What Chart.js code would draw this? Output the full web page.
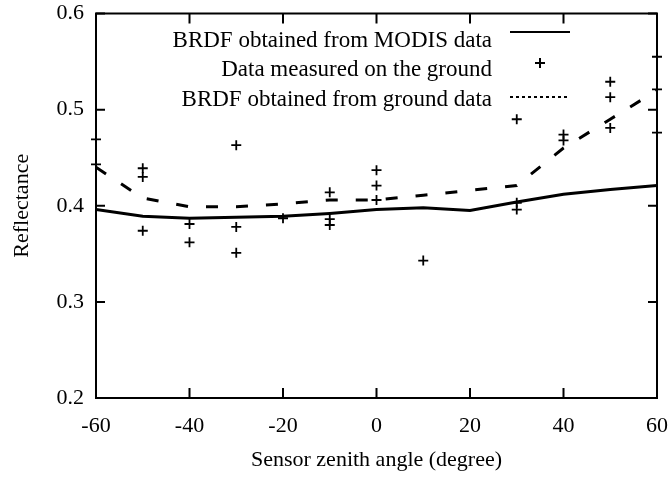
<!DOCTYPE html>
<html>
<head>
<meta charset="utf-8">
<script src="https://cdn.jsdelivr.net/npm/chart.js@4.4.0/dist/chart.umd.min.js"></script>
<style>
  html, body { margin: 0; padding: 0; background: #fff; }
  #wrap { width: 670px; height: 479px; }
</style>
</head>
<body>
<div id="wrap"><canvas id="myChart" width="670" height="479"></canvas></div>
<script>
    ///// data /////
    var angles = [-60, -50, -40, -30, -20, -10, 0, 10, 20, 30, 40, 50, 60];
    var modisBRDF = [0.396, 0.389, 0.387, 0.388, 0.389, 0.392, 0.396, 0.398, 0.395, 0.404, 0.412, 0.417, 0.421];
    var groundBRDF = [0.44, 0.408, 0.399, 0.399, 0.402, 0.406, 0.406, 0.411, 0.416, 0.421, 0.46, 0.49, 0.52];

    var measuredAngle = [-60, -60, -50, -50, -50, -40, -40, -30, -30, -30, -20, -10, -10, -10,
                         0, 0, 0, 10, 30, 30, 30, 40, 40, 50, 50, 50, 60, 60, 60];
    var measuredValue = [0.469, 0.443, 0.439, 0.430, 0.374, 0.381, 0.362, 0.463, 0.378, 0.351, 0.387, 0.414, 0.386, 0.380,
                         0.437, 0.421, 0.406, 0.343, 0.490, 0.403, 0.396, 0.474, 0.468, 0.529, 0.513, 0.481, 0.555, 0.521, 0.476];

    var xTicks = [-60, -40, -20, 0, 20, 40, 60];
    var yTicks = [0.2, 0.3, 0.4, 0.5, 0.6];
    var legendLabels = ["BRDF obtained from MODIS data", "Data measured on the ground", "BRDF obtained from ground data"];
    var xTitle = "Sensor zenith angle (degree)";
    var yTitle = "Reflectance";

    var fontFamily = "'Liberation Serif', 'Times New Roman', serif";

    function pairs(xs, ys) {
        var out = [];
        for (var i = 0; i < xs.length; i++) {
            out.push({x: xs[i], y: ys[i]});
        }
        return out;
    }

    ///// box + inward ticks + legend (gnuplot look) /////
    var frame = {
        id: "frame",
        afterDatasetsDraw: function (chart) {
            var ctx = chart.ctx;
            var a = chart.chartArea;
            var xs = chart.scales.x;
            var ys = chart.scales.y;
            ctx.save();
            ctx.strokeStyle = "#000";
            ctx.lineWidth = 2;
            ctx.strokeRect(a.left, a.top, a.right - a.left, a.bottom - a.top);

            ctx.beginPath();
            xTicks.forEach(function (v) {
                var px = xs.getPixelForValue(v);
                ctx.moveTo(px, a.bottom); ctx.lineTo(px, a.bottom - 10);
                ctx.moveTo(px, a.top); ctx.lineTo(px, a.top + 10);
            });
            yTicks.forEach(function (v) {
                var py = ys.getPixelForValue(v);
                ctx.moveTo(a.left, py); ctx.lineTo(a.left + 9, py);
                ctx.moveTo(a.right, py); ctx.lineTo(a.right - 9, py);
            });
            ctx.stroke();

            //////// legend, text right aligned, sample on the right
            ctx.font = "23px " + fontFamily;
            ctx.fillStyle = "#000";
            ctx.textAlign = "right";
            ctx.textBaseline = "alphabetic";
            var textX = 492;
            var baselines = [46.5, 76, 105.5];
            for (var i = 0; i < legendLabels.length; i++) {
                ctx.fillText(legendLabels[i], textX, baselines[i]);
            }
            ctx.lineWidth = 2;
            ctx.beginPath();
            ctx.moveTo(510, 32); ctx.lineTo(570, 32);
            ctx.stroke();
            ctx.beginPath();
            ctx.moveTo(535, 63); ctx.lineTo(545, 63);
            ctx.moveTo(540, 58); ctx.lineTo(540, 68);
            ctx.stroke();
            ctx.setLineDash([3, 3]);
            ctx.beginPath();
            ctx.moveTo(510, 97); ctx.lineTo(567, 97);
            ctx.stroke();
            ctx.restore();
        }
    };

    var ctx = document.getElementById("myChart").getContext("2d");
    var myChart = new Chart(ctx, {
        type: "scatter",
        data: {
            datasets: [{
                label: legendLabels[0],
                data: pairs(angles, modisBRDF),
                showLine: true,
                borderColor: "#000",
                borderWidth: 3,
                pointRadius: 0,
                tension: 0
            }, {
                label: legendLabels[2],
                data: pairs(angles, groundBRDF),
                showLine: true,
                borderColor: "#000",
                borderWidth: 3,
                borderDash: [12, 18],
                pointRadius: 0,
                tension: 0
            }, {
                label: legendLabels[1],
                data: pairs(measuredAngle, measuredValue),
                showLine: false,
                pointStyle: "cross",
                pointRadius: 5,
                borderColor: "#000",
                backgroundColor: "#000",
                borderWidth: 1.8,
                clip: false
            }]
        },
        options: {
            responsive: false,
            animation: false,
            layout: { padding: { left: 0, right: 13, top: 13.5, bottom: 0 } },
            plugins: {
                legend: { display: false },
                tooltip: { enabled: false }
            },
            scales: {
                x: {
                    type: "linear",
                    min: -60,
                    max: 60,
                    afterBuildTicks: function (scale) {
                        scale.ticks = xTicks.map(function (v) { return {value: v}; });
                    },
                    afterFit: function (scale) { scale.height = 81; },
                    grid: { display: false, drawTicks: true, tickLength: 15 },
                    border: { display: false },
                    ticks: { color: "#000", padding: 0, maxRotation: 0, font: { family: fontFamily, size: 22 } },
                    title: { display: true, text: xTitle, color: "#000", padding: { bottom: 6 }, font: { family: fontFamily, size: 22 } }
                },
                y: {
                    type: "linear",
                    min: 0.2,
                    max: 0.6,
                    afterBuildTicks: function (scale) {
                        scale.ticks = yTicks.map(function (v) { return {value: v}; });
                    },
                    afterFit: function (scale) { scale.width = 96; },
                    grid: { display: false, drawTicks: true, tickLength: 12 },
                    border: { display: false },
                    ticks: {
                        color: "#000", padding: 0, font: { family: fontFamily, size: 22 },
                        callback: function (v) { return v.toFixed(1); }
                    },
                    title: { display: true, text: yTitle, color: "#000", padding: { top: 9 }, font: { family: fontFamily, size: 22 } }
                }
            }
        },
        plugins: [frame]
    });
</script>
</body>
</html>
